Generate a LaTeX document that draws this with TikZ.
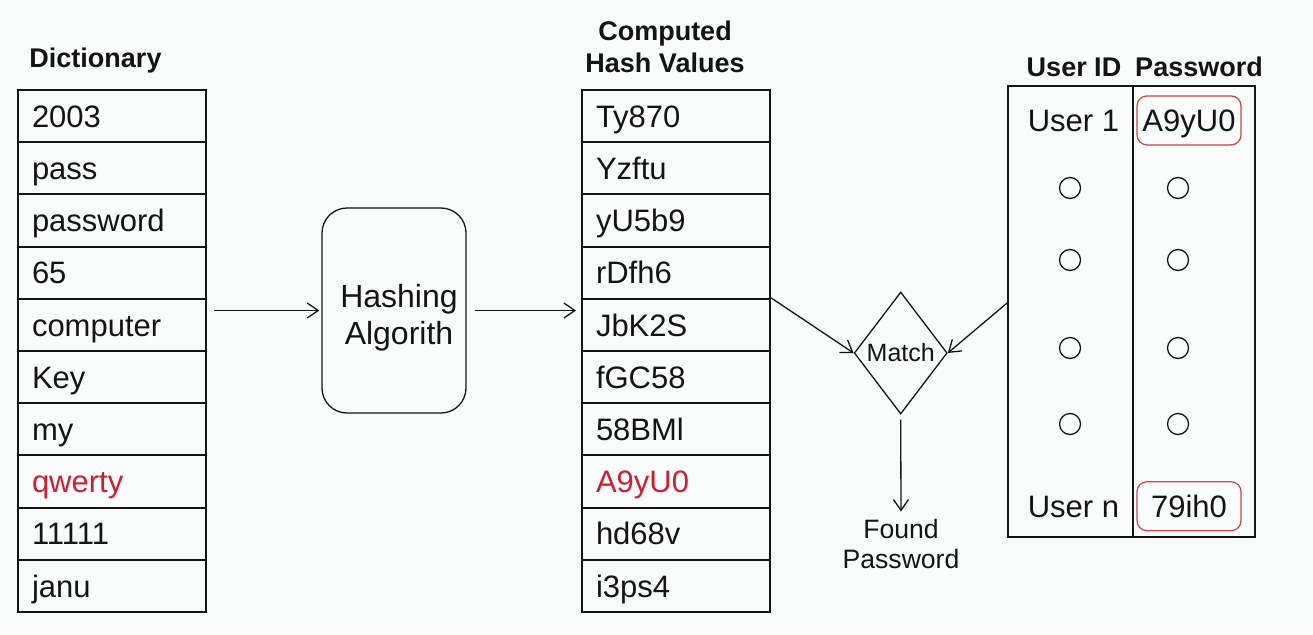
\documentclass[tikz,border=0pt]{standalone}
\usepackage{fontspec}
\setmainfont{Liberation Sans}
\usetikzlibrary{shapes.geometric,arrows.meta,calc}
\definecolor{bg}{RGB}{249,252,250}
\definecolor{hitred}{RGB}{205,30,50}
\definecolor{boxred}{RGB}{200,70,75}
\definecolor{ink}{RGB}{20,20,20}
\begin{document}
\begin{tikzpicture}[x=1pt,y=-1pt,
  cell/.style={draw=ink, line width=2pt, rectangle, minimum width=188pt, minimum height=52.2pt,
    text width=160pt, inner xsep=14pt, inner ysep=0pt, align=left, text height=22.4pt, text depth=0pt,
    font=\fontsize{31}{37}\selectfont},
  head/.style={font=\bfseries\fontsize{27}{32}\selectfont, inner sep=0pt, text=ink},
  arr/.style={draw=ink, line width=1.3pt, -{Straight Barb[length=11pt,width=15pt,line width=1.3pt]}},
  col/.style={draw=ink, line width=1.6pt, rectangle, inner sep=0pt, minimum height=451pt},
  redbox/.style={draw=boxred, line width=1.2pt, rounded corners=10pt, minimum width=104pt, minimum height=49pt,
    inner sep=0pt, text height=22.4pt, text depth=0pt, font=\fontsize{31}{37}\selectfont, text=ink},
  utext/.style={inner sep=0pt, text height=22.4pt, text depth=0pt, font=\fontsize{31}{37}\selectfont, text=ink},
  circ/.style={draw=ink, line width=1.3pt, circle, minimum size=21pt, inner sep=0pt}
]
\fill[bg] (0,0) rectangle (1313,634);
\useasboundingbox (0,0) rectangle (1313,634);

% Headers
\node[head, anchor=base] (dicth) at (95.5,67) {Dictionary};
\node[head, anchor=north, align=center] (hashh) at (665,21) {Computed\\Hash Values};
\node[head, anchor=base] (uidh) at (1074,76) {User ID};
\node[head, anchor=base] (pwh) at (1199,76) {Password};

% Dictionary table
\foreach \t/\c [count=\i] in {2003/ink,pass/ink,password/ink,65/ink,computer/ink,Key/ink,my/ink,qwerty/hitred,11111/ink,janu/ink}
  \node[cell, text=\c] (d\i) at (112,{90+52.2*(\i-0.5)}) {\t};

% Hash table
\foreach \t/\c [count=\i] in {Ty870/ink,Yzftu/ink,yU5b9/ink,rDfh6/ink,JbK2S/ink,fGC58/ink,58BMl/ink,A9yU0/hitred,hd68v/ink,i3ps4/ink}
  \node[cell, text=\c] (h\i) at (676,{90+52.2*(\i-0.5)}) {\t};

% Hashing algorithm
\node[draw=ink, line width=1.3pt, rounded corners=25pt, minimum width=144pt, minimum height=205pt,
  align=center, inner sep=0pt, font=\fontsize{32}{37}\selectfont, text=ink] (hash) at (394,310.5)
  {\rule{0pt}{38pt}\hspace*{10pt}Hashing\\\hspace*{10pt}Algorith};

\draw[arr, shorten <=7pt, shorten >=2pt] (d5.east |- hash.west) -- (hash.west);
\draw[arr, shorten <=8pt, shorten >=5pt] (hash.east) -- (h5.west |- hash.east);

% User table
\node[col, minimum width=124.7pt] (uid) at (1070.35,311.5) {};
\node[col, minimum width=122.3pt] (upw) at (1193.85,311.5) {};
\node[utext] (u1) at (1073.5,120) {User 1};
\node[utext] (un) at (1073.5,506) {User n};
\node[redbox] (pw1) at (1189,120.4) {A9yU0};
\node[redbox] (pwn) at (1189,506.2) {79ih0};
\foreach \y [count=\j] in {188,260,348,424} {
  \node[circ] (ca\j) at (1070,\y) {};
  \node[circ] (cb\j) at (1178,\y) {};
}

% Match
\node[diamond, draw=ink, line width=1.3pt, minimum width=93pt, minimum height=122pt, inner sep=0pt,
  font=\fontsize{25}{30}\selectfont, text=ink] (match) at (900.7,353) {Match};
\coordinate (uidin) at ($(uid.north west)!0.481!(uid.south west)$);
\draw[arr] (h5.north east) -- (match.west);
\draw[arr] (uidin) -- (match.east);

\node[anchor=north, align=center, inner sep=0pt, font=\fontsize{26.6}{30}\selectfont, text=ink] (found) at (901,518.6) {Found\\Password};
\draw[arr, shorten <=5pt, shorten >=7pt] (match.south) -- (found.north);
\end{tikzpicture}
\end{document}
